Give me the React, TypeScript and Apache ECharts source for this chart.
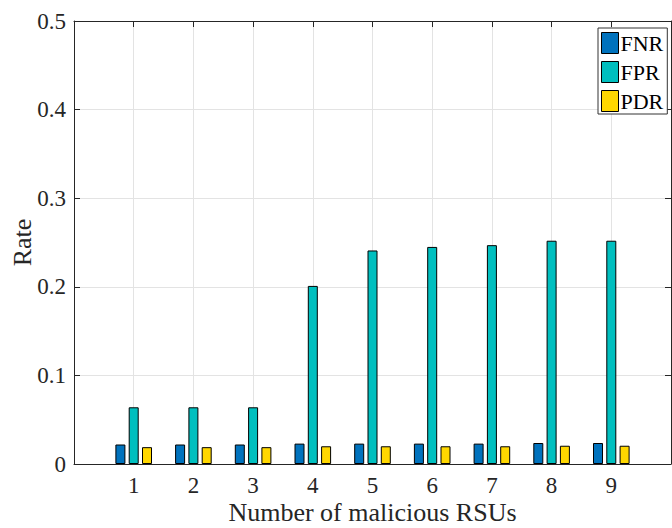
import React, { useEffect, useRef } from "react";
import * as echarts from "echarts";

const categories = [1, 2, 3, 4, 5, 6, 7, 8, 9];
const fnr = [0.022, 0.022, 0.022, 0.023, 0.023, 0.023, 0.023, 0.0237, 0.0237];
const fpr = [0.064, 0.064, 0.064, 0.201, 0.241, 0.245, 0.247, 0.252, 0.252];
const pdr = [0.019, 0.019, 0.019, 0.020, 0.020, 0.020, 0.020, 0.0206, 0.0206];
const seriesNames = ["FNR", "FPR", "PDR"];
const seriesColors = ["#0072BD", "#00BFBF", "#FFD700"];

const FONT = "Liberation Serif";
const TEXT = "#262626";

export default function App() {
  const ref = useRef<HTMLDivElement>(null);
  useEffect(() => {
    document.body.style.margin = "0";
    const chart = echarts.init(ref.current!, null, { renderer: "svg" });
    const values = [fnr, fpr, pdr];
    const axisCommon = {
      type: "value" as const,
      axisLine: { show: true, onZero: false, lineStyle: { color: TEXT, width: 1 } },
      axisTick: { show: true, inside: true, length: 6, lineStyle: { color: TEXT } },
    };
    chart.setOption({
      animation: false,
      backgroundColor: "#ffffff",
      textStyle: { fontFamily: FONT, color: TEXT },
      grid: {
        left: 74,
        top: 21,
        width: 597,
        height: 443,
        containLabel: false,
        outerBoundsMode: "none",
      },
      legend: {
        orient: "vertical",
        left: 598,
        top: 28,
        padding: [4, 4, 2, 3],
        itemWidth: 17,
        itemHeight: 21,
        itemGap: 7,
        backgroundColor: "#ffffff",
        borderColor: "#333333",
        borderWidth: 1,
        icon: "rect",
        itemStyle: { borderColor: "#000", borderWidth: 1 },
        textStyle: { fontFamily: FONT, fontSize: 22, color: "#000", padding: [0, 0, 0, -3] },
        data: seriesNames,
      },
      xAxis: [
        {
          ...axisCommon,
          position: "bottom",
          min: 0,
          max: 10,
          interval: 1,
          name: "Number of malicious RSUs",
          nameLocation: "middle",
          nameGap: 35,
          nameMoveOverlap: false,
          nameTextStyle: { fontFamily: FONT, fontSize: 26, color: TEXT },
          axisLabel: {
            fontFamily: FONT,
            fontSize: 23,
            color: TEXT,
            margin: 10,
            formatter: (v: number) => (v === 0 || v === 10 ? "" : String(v)),
          },
          splitLine: { show: true, lineStyle: { color: "#e3e3e3", width: 1 } },
        },
        {
          ...axisCommon,
          position: "top",
          min: 0,
          max: 10,
          interval: 1,
          axisLabel: { show: false },
          splitLine: { show: false },
        },
      ],
      yAxis: [
        {
          ...axisCommon,
          position: "left",
          min: 0,
          max: 0.5,
          interval: 0.1,
          name: "Rate",
          nameLocation: "middle",
          nameGap: 39,
          nameMoveOverlap: false,
          nameTextStyle: { fontFamily: FONT, fontSize: 26, color: TEXT },
          axisLabel: {
            fontFamily: FONT,
            fontSize: 23,
            color: TEXT,
            margin: 8,
            formatter: (v: number) => (v === 0 ? "0" : v.toFixed(1)),
          },
          splitLine: { show: true, lineStyle: { color: "#e3e3e3", width: 1 } },
        },
        {
          ...axisCommon,
          position: "right",
          min: 0,
          max: 0.5,
          interval: 0.1,
          axisLabel: { show: false },
          splitLine: { show: false },
        },
      ],
      series: seriesNames.map((name, i) => ({
        name,
        type: "bar",
        xAxisIndex: 0,
        yAxisIndex: 0,
        barWidth: 10,
        barGap: "33%",
        itemStyle: { color: seriesColors[i], borderColor: "#000", borderWidth: 1 },
        data: categories.map((c, j) => [c, values[i][j]]),
      })),
    });
    return () => chart.dispose();
  }, []);
  return <div ref={ref} style={{ width: 672, height: 528 }} />;
}
